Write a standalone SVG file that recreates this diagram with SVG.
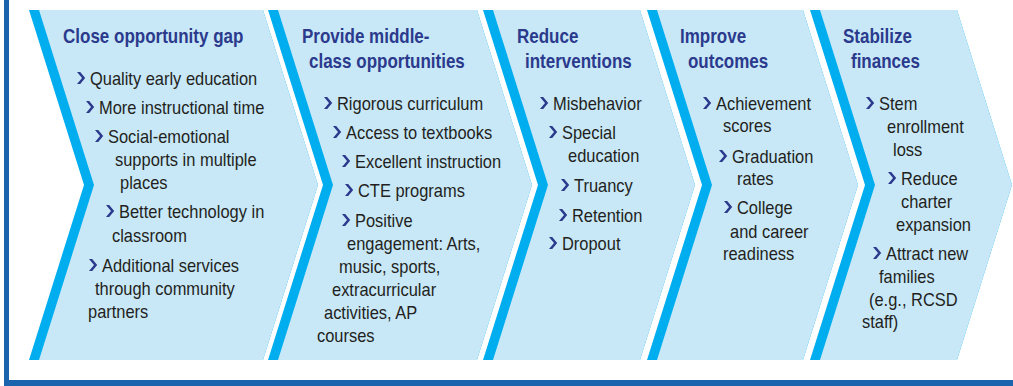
<svg xmlns="http://www.w3.org/2000/svg" width="1013" height="386" viewBox="0 0 1013 386">
<defs>
<style>
.band{fill:#00AEEF}
.fill{fill:#C8E8F8}
.frame{fill:#1A64AE}
.t{font-family:"Liberation Sans",Arial,sans-serif;font-weight:bold;font-size:21px;fill:#2B3A8C;transform-box:fill-box;transform-origin:0 0;transform:scaleX(0.81)}
.b{font-family:"Liberation Sans",Arial,sans-serif;font-size:17.5px;fill:#231F20;transform-box:fill-box;transform-origin:0 0;transform:scaleX(0.94)}
.bul{fill:#2B3A8C}
</style>
<polygon id="bul" class="bul" points="0,0 3.2,0 8.2,6 3.2,12 0,12 5,6"/>
</defs>
<rect width="1013" height="386" fill="#FFFFFF"/>
<g id="frame">
<rect class="frame" x="4" y="0" width="5" height="386"/>
<rect class="frame" x="4" y="380" width="1009" height="6"/>
</g>
<g id="step1">
<polygon class="band" points="29,10 263,10 318,185 263,360 29,360 84,185"/>
<polygon class="fill" points="39,10 263,10 318,185 263,360 39,360 94,185"/>
<text class="t" x="63" y="43">Close opportunity gap</text>
<use href="#bul" x="77" y="72"/><text class="b" x="90" y="85">Quality early education</text>
<use href="#bul" x="86" y="101"/><text class="b" x="99" y="114">More instructional time</text>
<use href="#bul" x="95" y="130"/><text class="b" x="108" y="143">Social-emotional</text>
<text class="b" x="115" y="166">supports in multiple</text>
<text class="b" x="120" y="189">places</text>
<use href="#bul" x="106" y="205"/><text class="b" x="119" y="218">Better technology in</text>
<text class="b" x="112" y="242">classroom</text>
<use href="#bul" x="89" y="259"/><text class="b" x="102" y="272">Additional services</text>
<text class="b" x="95" y="295">through community</text>
<text class="b" x="88" y="318">partners</text>
</g>
<g id="step2">
<polygon class="band" points="268,10 477,10 532,185 477,360 268,360 323,185"/>
<polygon class="fill" points="278,10 477,10 532,185 477,360 278,360 333,185"/>
<text class="t" x="302" y="43">Provide middle-</text>
<text class="t" x="309" y="68">class opportunities</text>
<use href="#bul" x="324" y="97"/><text class="b" x="337" y="110">Rigorous curriculum</text>
<use href="#bul" x="333" y="126"/><text class="b" x="346" y="139">Access to textbooks</text>
<use href="#bul" x="342" y="155"/><text class="b" x="355" y="168">Excellent instruction</text>
<use href="#bul" x="345" y="184"/><text class="b" x="358" y="197">CTE programs</text>
<use href="#bul" x="342" y="214"/><text class="b" x="355" y="227">Positive</text>
<text class="b" x="347" y="250">engagement: Arts,</text>
<text class="b" x="339" y="273">music, sports,</text>
<text class="b" x="332" y="296">extracurricular</text>
<text class="b" x="324" y="319">activities, AP</text>
<text class="b" x="317" y="342">courses</text>
</g>
<g id="step3">
<polygon class="band" points="483,10 640,10 695,185 640,360 483,360 538,185"/>
<polygon class="fill" points="493,10 640,10 695,185 640,360 493,360 548,185"/>
<text class="t" x="517" y="43">Reduce</text>
<text class="t" x="525" y="68">interventions</text>
<use href="#bul" x="540" y="97"/><text class="b" x="553" y="110">Misbehavior</text>
<use href="#bul" x="549" y="126"/><text class="b" x="562" y="139">Special</text>
<text class="b" x="568" y="162">education</text>
<use href="#bul" x="561" y="179"/><text class="b" x="574" y="192">Truancy</text>
<use href="#bul" x="559" y="209"/><text class="b" x="572" y="222">Retention</text>
<use href="#bul" x="549" y="237"/><text class="b" x="562" y="250">Dropout</text>
</g>
<g id="step4">
<polygon class="band" points="647,10 803,10 858,185 803,360 647,360 702,185"/>
<polygon class="fill" points="657,10 803,10 858,185 803,360 657,360 712,185"/>
<text class="t" x="680" y="43">Improve</text>
<text class="t" x="688" y="68">outcomes</text>
<use href="#bul" x="703" y="97"/><text class="b" x="716" y="110">Achievement</text>
<text class="b" x="723" y="132">scores</text>
<use href="#bul" x="719" y="150"/><text class="b" x="732" y="163">Graduation</text>
<text class="b" x="737" y="185">rates</text>
<use href="#bul" x="724" y="201"/><text class="b" x="737" y="214">College</text>
<text class="b" x="730" y="238">and career</text>
<text class="b" x="723" y="260">readiness</text>
</g>
<g id="step5">
<polygon class="band" points="810,10 957,10 1012,185 957,360 810,360 865,185"/>
<polygon class="fill" points="820,10 957,10 1012,185 957,360 820,360 875,185"/>
<text class="t" x="843" y="43">Stabilize</text>
<text class="t" x="851" y="68">finances</text>
<use href="#bul" x="866" y="97"/><text class="b" x="879" y="110">Stem</text>
<text class="b" x="887" y="133">enrollment</text>
<text class="b" x="893" y="156">loss</text>
<use href="#bul" x="888" y="172"/><text class="b" x="901" y="185">Reduce</text>
<text class="b" x="901" y="208">charter</text>
<text class="b" x="896" y="231">expansion</text>
<use href="#bul" x="873" y="247"/><text class="b" x="886" y="260">Attract new</text>
<text class="b" x="879" y="283">families</text>
<text class="b" x="869" y="306">(e.g., RCSD</text>
<text class="b" x="862" y="328">staff)</text>
</g>
</svg>
